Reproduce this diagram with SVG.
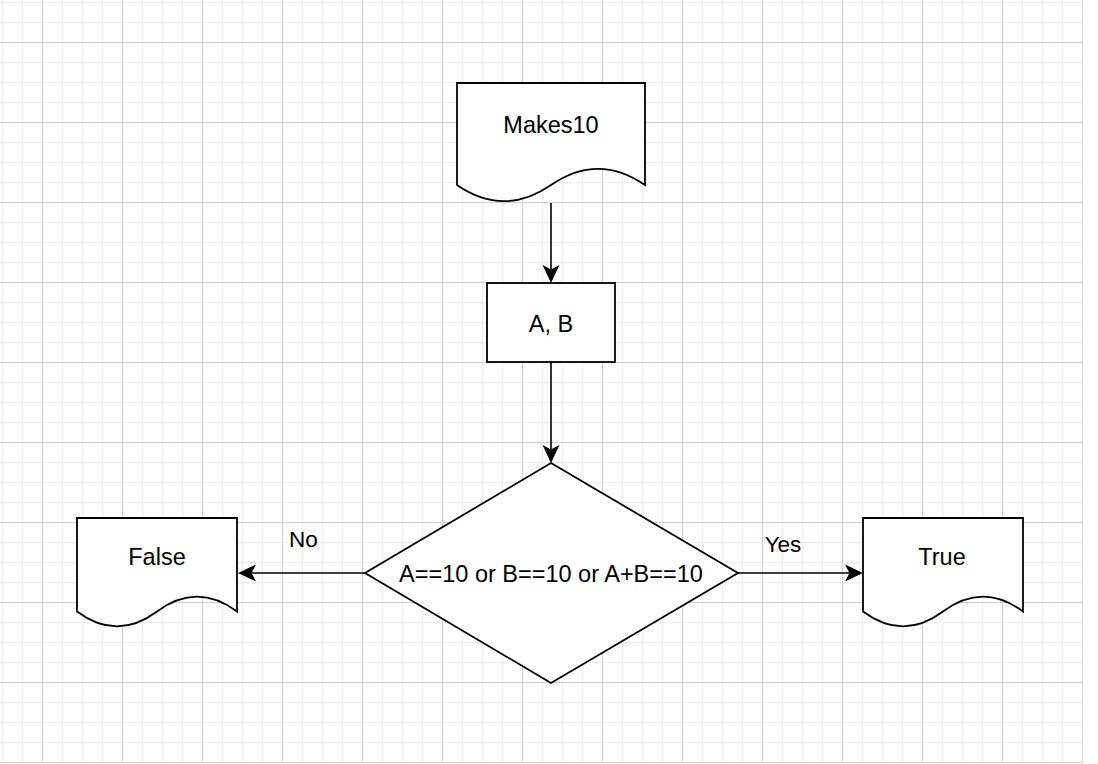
<svg xmlns="http://www.w3.org/2000/svg" width="1098" height="764" viewBox="0 0 1098 764">
  <style>
    .shape { fill: #ffffff; stroke: #000000; stroke-width: 1.8; }
    .edge { fill: none; stroke: #000000; stroke-width: 1.6; }
    .lbl { font-family: "Liberation Sans", Arial, Helvetica, sans-serif; font-size: 23.5px; fill: #000000; text-anchor: middle; }
    .elbl { font-family: "Liberation Sans", Arial, Helvetica, sans-serif; font-size: 22.5px; fill: #000000; text-anchor: middle; }
  </style>
  <defs>
    <pattern id="minor" patternUnits="userSpaceOnUse" x="2" y="2" width="20" height="20">
      <rect x="0" y="0" width="1.4" height="20" fill="#efefef"/>
      <rect x="0" y="0" width="20" height="1.4" fill="#efefef"/>
    </pattern>
    <pattern id="major" patternUnits="userSpaceOnUse" x="42" y="42" width="80" height="80">
      <rect x="0" y="0" width="1" height="80" fill="#d2d2d2"/>
      <rect x="0" y="0" width="80" height="1" fill="#d2d2d2"/>
    </pattern>
    <marker id="arrow" markerUnits="userSpaceOnUse" orient="auto" viewBox="-18 -9 18 18" markerWidth="18" markerHeight="18" refX="-13.5" refY="0">
      <path d="M0,0 L-18,-8.5 L-13.5,0 L-18,8.5 Z" fill="#000000"/>
    </marker>
  </defs>

  <rect x="0" y="0" width="1098" height="764" fill="#ffffff"/>
  <rect x="0" y="0" width="1083" height="763" fill="url(#minor)"/>
  <rect x="0" y="0" width="1083" height="763" fill="url(#major)"/>

  <g id="connectors">
    <line class="edge" x1="551" y1="203" x2="551" y2="269.5" marker-end="url(#arrow)"/>
    <line class="edge" x1="551" y1="362" x2="551" y2="449.5" marker-end="url(#arrow)"/>
    <line class="edge" x1="365" y1="573" x2="251.5" y2="573" marker-end="url(#arrow)"/>
    <line class="edge" x1="738" y1="573" x2="849.5" y2="573" marker-end="url(#arrow)"/>
    <text class="elbl" x="303.5" y="547">No</text>
    <text class="elbl" x="783" y="552">Yes</text>
  </g>

  <g id="makes10">
    <path class="shape" d="M457,83 L645,83 L645,185 Q598,152.6 551,185 Q504,217.4 457,185 Z"/>
    <text class="lbl" x="551" y="133">Makes10</text>
  </g>

  <g id="inputs">
    <rect class="shape" x="487" y="283" width="128" height="79"/>
    <text class="lbl" x="551" y="332">A, B</text>
  </g>

  <g id="decision">
    <polygon class="shape" points="551,463 738,573 551,683 365,573"/>
    <text class="lbl" x="551" y="581.5">A==10 or B==10 or A+B==10</text>
  </g>

  <g id="false">
    <path class="shape" d="M77,518 L237,518 L237,611.5 Q197,581.8 157,611.5 Q117,641.2 77,611.5 Z"/>
    <text class="lbl" x="157" y="565">False</text>
  </g>

  <g id="true">
    <path class="shape" d="M863,518 L1023,518 L1023,611.5 Q983,581.8 943,611.5 Q903,641.2 863,611.5 Z"/>
    <text class="lbl" x="942" y="565">True</text>
  </g>
</svg>
